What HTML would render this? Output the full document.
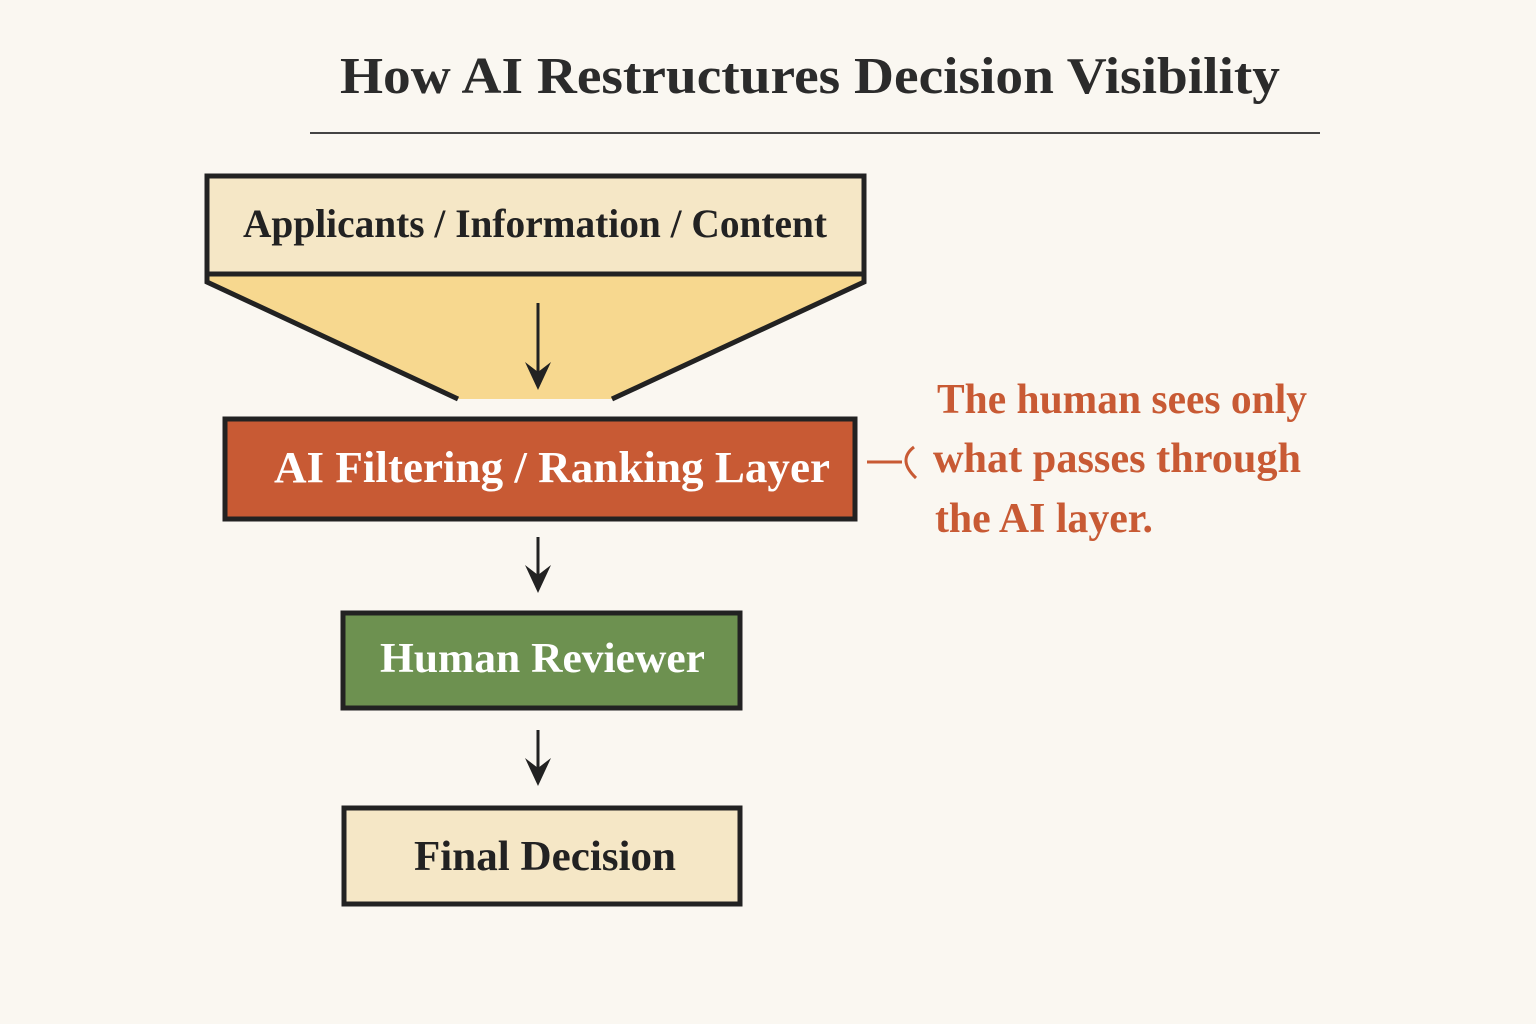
<!DOCTYPE html>
<html><head><meta charset="utf-8"><style>
html,body{margin:0;padding:0;background:#faf7f1;}
svg{display:block}
text{font-family:"Liberation Serif",serif;}
</style></head><body>
<svg width="1536" height="1024" viewBox="0 0 1536 1024" xmlns="http://www.w3.org/2000/svg">
<rect width="1536" height="1024" fill="#faf7f1"/>
<text x="340" y="93" font-size="52" font-weight="bold" fill="#2b2b2b" textLength="940" lengthAdjust="spacingAndGlyphs">How AI Restructures Decision Visibility</text>
<line x1="310" y1="133" x2="1320" y2="133" stroke="#444" stroke-width="2"/>
<polygon points="207,276 864,276 864,282 612,399 458,399 207,282" fill="#f7d88f"/>
<polyline points="458,399 207,282 207,276" fill="none" stroke="#222" stroke-width="5"/>
<polyline points="612,399 864,282 864,276" fill="none" stroke="#222" stroke-width="5"/>
<rect x="207" y="176" width="657" height="98" fill="#f5e7c6" stroke="#222" stroke-width="5"/>
<text x="243" y="237" font-size="40" font-weight="bold" fill="#222" textLength="584" lengthAdjust="spacingAndGlyphs">Applicants / Information / Content</text>
<line x1="538" y1="303" x2="538" y2="375" stroke="#222" stroke-width="3"/>
<path d="M525,362 L538,390 L551,362 L538,372 Z" fill="#222"/>
<rect x="225" y="419" width="630" height="100" fill="#c85a34" stroke="#222" stroke-width="5"/>
<text x="274" y="482" font-size="44" font-weight="bold" fill="#fff" textLength="556" lengthAdjust="spacingAndGlyphs">AI Filtering / Ranking Layer</text>
<line x1="867" y1="462" x2="902" y2="462" stroke="#c85a34" stroke-width="3"/>
<path d="M914,447 Q897,460 916,478" fill="none" stroke="#c85a34" stroke-width="3"/>
<g font-size="42" fill="#c85a34" font-weight="bold">
<text x="937" y="413" textLength="370" lengthAdjust="spacingAndGlyphs">The human sees only</text>
<text x="933" y="472" textLength="368" lengthAdjust="spacingAndGlyphs">what passes through</text>
<text x="935" y="532" textLength="218" lengthAdjust="spacingAndGlyphs">the AI layer.</text>
</g>
<line x1="538" y1="537" x2="538" y2="578" stroke="#222" stroke-width="3"/>
<path d="M525,565 L538,593 L551,565 L538,575 Z" fill="#222"/>
<rect x="343" y="613" width="397" height="95" fill="#6d9150" stroke="#222" stroke-width="5"/>
<text x="380" y="672" font-size="42" font-weight="bold" fill="#fff" textLength="325" lengthAdjust="spacingAndGlyphs">Human Reviewer</text>
<line x1="538" y1="730" x2="538" y2="771" stroke="#222" stroke-width="3"/>
<path d="M525,758 L538,786 L551,758 L538,768 Z" fill="#222"/>
<rect x="344" y="808" width="396" height="96" fill="#f5e7c6" stroke="#222" stroke-width="5"/>
<text x="414" y="870" font-size="42" font-weight="bold" fill="#222" textLength="262" lengthAdjust="spacingAndGlyphs">Final Decision</text>
</svg>
</body></html>
